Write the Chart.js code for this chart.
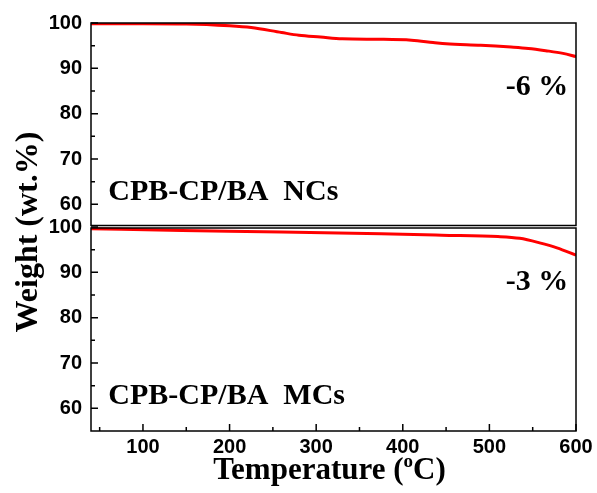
<!DOCTYPE html>
<html>
<head>
<meta charset="utf-8">
<script src="https://cdn.jsdelivr.net/npm/chart.js@4"></script>
<style>
    body { margin: 0; background: #fff; }
    canvas { display: block; }
</style>
</head>
<body>
<canvas id="tga-chart" width="597" height="493"></canvas>
<script>
const ncTemps = [40, 100, 150, 200, 225, 260, 280, 305, 330, 375, 410, 435, 450, 490, 525, 545, 565, 585, 600];
const ncWeights = [99.85, 99.85, 99.8, 99.4, 99.0, 97.9, 97.3, 96.9, 96.5, 96.4, 96.2, 95.7, 95.4, 95.1, 94.7, 94.4, 93.9, 93.3, 92.6];
const mcTemps = [40, 145, 260, 375, 445, 510, 535, 558, 578, 600];
const mcWeights = [99.6, 99.25, 98.9, 98.5, 98.2, 97.9, 97.5, 96.5, 95.4, 93.8];
const xTicks = [100, 200, 300, 400, 500, 600];
const yTicks = [60, 70, 80, 90, 100];

const serif = '"Liberation Serif", "Times New Roman", serif';
const sans = '"Liberation Sans", Arial, sans-serif';

const toPoints = (xs, ys) => xs.map((x, i) => ({ x: x, y: ys[i] }));

// frame, inward ticks, axis titles and panel labels
const framePlugin = {
    id: "frame",
    afterDatasetsDraw(chart) {
        const ctx = chart.ctx;
        const x = chart.scales.x;
        const top = chart.scales.yTop;
        const bot = chart.scales.yBot;
        ctx.save();
        ctx.strokeStyle = "#000";
        ctx.lineWidth = 1.5;
        ctx.strokeRect(x.left, top.top, x.right - x.left, top.bottom - 1.5 - top.top);
        ctx.strokeRect(x.left, bot.top + 1, x.right - x.left, bot.bottom - bot.top - 1);

        ctx.beginPath();
        [top, bot].forEach(s => {
            yTicks.forEach(v => {
                const py = s.getPixelForValue(v);
                ctx.moveTo(x.left, py);
                ctx.lineTo(x.left + 7, py);
                if (v > 60) {
                    const pm = s.getPixelForValue(v - 5);
                    ctx.moveTo(x.left, pm);
                    ctx.lineTo(x.left + 4, pm);
                }
            });
        });
        xTicks.forEach(v => {
            const px = x.getPixelForValue(v);
            ctx.moveTo(px, bot.bottom);
            ctx.lineTo(px, bot.bottom - 7);
            const pm = x.getPixelForValue(v - 50);
            ctx.moveTo(pm, bot.bottom);
            ctx.lineTo(pm, bot.bottom - 4);
        });
        ctx.stroke();

        ctx.fillStyle = "#000";
        ctx.font = "bold 30px " + serif;
        ctx.textBaseline = "alphabetic";
        ctx.textAlign = "left";
        ctx.fillText("CPB-CP/BA  NCs", x.getPixelForValue(60), top.getPixelForValue(60.9));
        ctx.fillText("CPB-CP/BA  MCs", x.getPixelForValue(60), bot.getPixelForValue(60.9));
        ctx.textAlign = "right";
        ctx.fillText("-6 %", x.getPixelForValue(591), top.getPixelForValue(84.2));
        ctx.fillText("-3 %", x.getPixelForValue(591), bot.getPixelForValue(86.2));

        // x title with superscript o
        ctx.textAlign = "left";
        const big = "bold 31px " + serif;
        const small = "bold 19px " + serif;
        ctx.font = big;
        const w1 = ctx.measureText("Temperature (").width;
        const w3 = ctx.measureText("C)").width;
        ctx.font = small;
        const w2 = ctx.measureText("o").width;
        let tx = (x.left + x.right) / 2 - (w1 + w2 + w3) / 2 - 4;
        const ty = 479;
        ctx.font = big;
        ctx.fillText("Temperature (", tx, ty);
        tx += w1;
        ctx.font = small;
        ctx.fillText("o", tx, ty - 12);
        tx += w2;
        ctx.font = big;
        ctx.fillText("C)", tx, ty);

        // y title
        ctx.translate(29, 232);
        ctx.rotate(-Math.PI / 2);
        ctx.textAlign = "center";
        ctx.textBaseline = "middle";
        ctx.font = "bold 32px " + serif;
        ctx.fillText("Weight (wt.%)", 0, 0);
        ctx.restore();
    }
};

const yAxis = () => ({
    type: "linear",
    position: "left",
    stack: "panels",
    stackWeight: 1,
    min: 55,
    max: 100,
    grid: { display: false, drawTicks: false },
    border: { display: false },
    ticks: {
        stepSize: 10,
        includeBounds: false,
        padding: 9,
        color: "#000",
        font: { family: sans, size: 20, weight: "bold" },
    },
    afterFit: s => {
        s.width = 91;
        s.paddingTop = 0;
        s.paddingBottom = 0;
    },
});

new Chart(document.getElementById("tga-chart"), {
    type: "line",
    data: {
        datasets: [
            {
                label: "CPB-CP/BA NCs",
                data: toPoints(ncTemps, ncWeights),
                yAxisID: "yTop",
                borderColor: "#ff0000",
                borderWidth: 3,
                pointRadius: 0,
                cubicInterpolationMode: "monotone",
            },
            {
                label: "CPB-CP/BA MCs",
                data: toPoints(mcTemps, mcWeights),
                yAxisID: "yBot",
                borderColor: "#ff0000",
                borderWidth: 3,
                pointRadius: 0,
                cubicInterpolationMode: "monotone",
            },
        ],
    },
    options: {
        responsive: false,
        animation: false,
        layout: { padding: { left: 0, top: 23, right: 21, bottom: 0 } },
        plugins: {
            legend: { display: false },
            tooltip: { enabled: false },
        },
        scales: {
            x: {
                type: "linear",
                min: 40,
                max: 600,
                grid: { display: false, drawTicks: false },
                border: { display: false },
                ticks: {
                    stepSize: 100,
                    includeBounds: false,
                    maxRotation: 0,
                    padding: 4,
                    color: "#000",
                    font: { family: sans, size: 20, weight: "bold" },
                },
                afterFit: s => {
                    s.height = 62;
                    s.paddingLeft = 0;
                    s.paddingRight = 0;
                },
            },
            yBot: yAxis(),
            yTop: yAxis(),
        },
    },
    plugins: [framePlugin],
});
</script>
</body>
</html>
